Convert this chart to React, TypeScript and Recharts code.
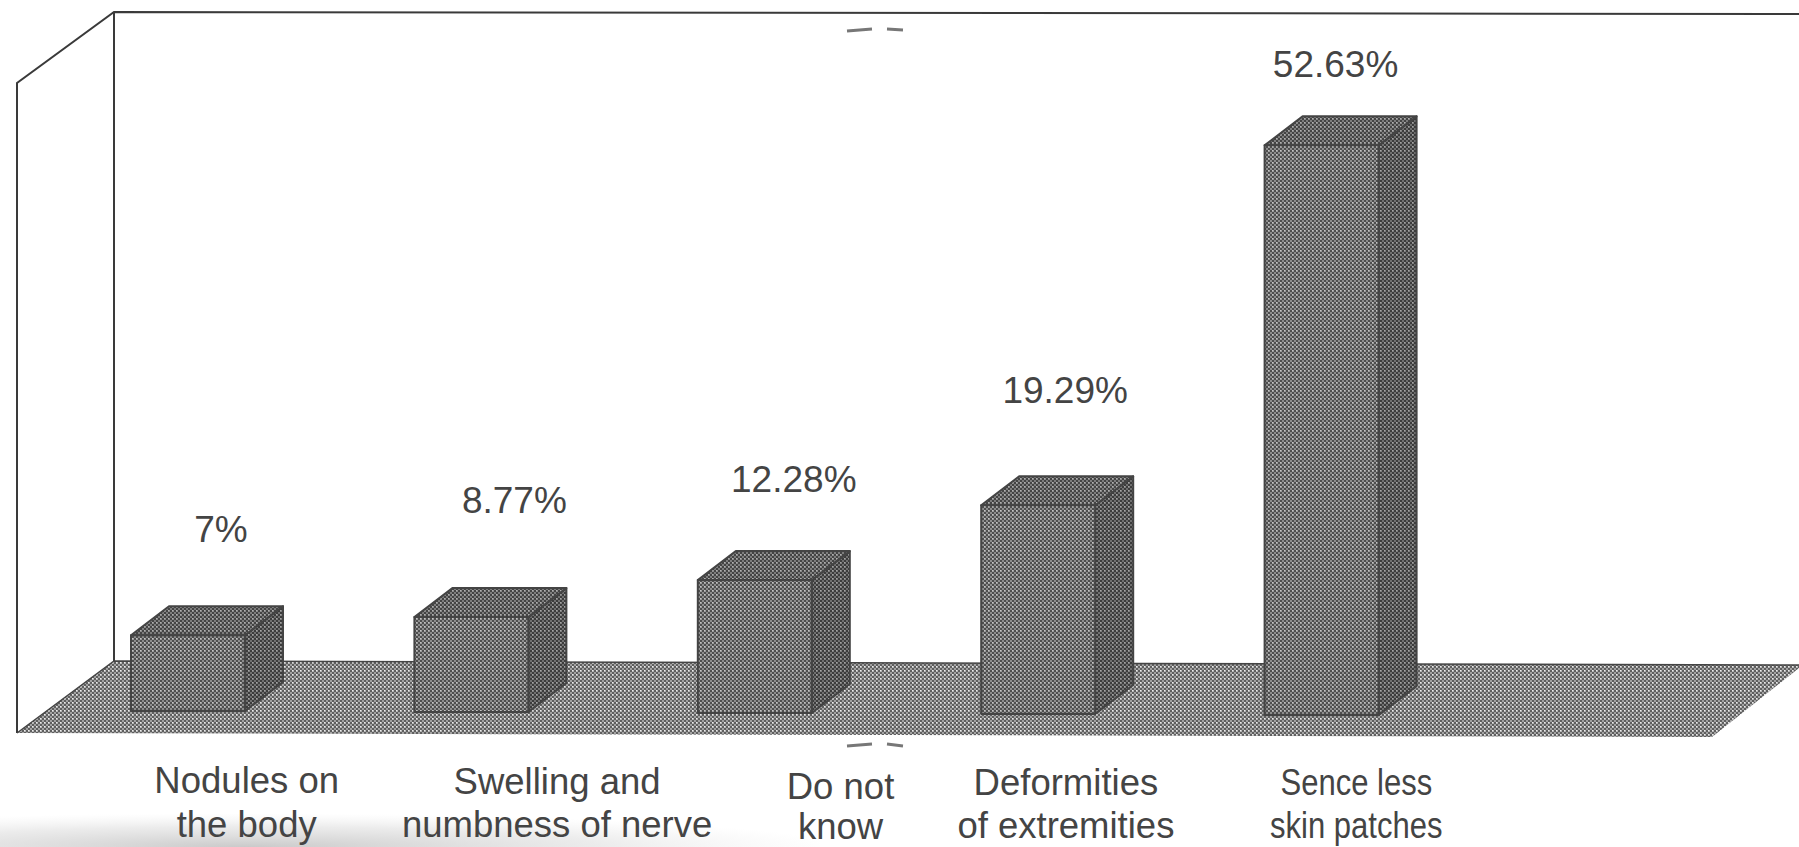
import { BarChart, Bar, XAxis, YAxis, LabelList } from 'recharts';

const categories = [
  'Nodules on\nthe body',
  'Swelling and\nnumbness of nerve',
  'Do not\nknow',
  'Deformities\nof extremities',
  'Sence less\nskin patches',
];
const percents = [7, 8.77, 12.28, 19.29, 52.63];
const percentLabels = ['7%', '8.77%', '12.28%', '19.29%', '52.63%'];

const data = categories.map((category, i) => ({ category, percent: percents[i], label: percentLabels[i] }));

const W = 1799;
const H = 847;
const TEXT = '#444';
const FONT = '"Liberation Sans", Arial, sans-serif';

// box depth of the fake 3D bars
const DX = 38;
const DY = -29;
// the baseline runs slightly downhill from left to right
const TILT = 0.0036;
const tiltAt = (x: number) => (x - 130) * TILT;

// hand placed label nudges, relative to the bar centre / bar top
const valueNudge = [
  { dx: 33, dy: -93 },
  { dx: 43, dy: -104 },
  { dx: 39, dy: -88 },
  { dx: 27, dy: -102 },
  { dx: 14, dy: -68 },
];
// sx squeezes the last label, which is set narrower than the others
const tickNudge = [
  { dx: 59, y: 793, lh: 44, sx: 1 },
  { dx: 86, y: 794, lh: 43, sx: 1 },
  { dx: 86, y: 799, lh: 40, sx: 1 },
  { dx: 28, y: 795, lh: 43, sx: 1 },
  { dx: 35, y: 795, lh: 43, sx: 0.85 },
];

function Dots({ id, base, dark, light }: { id: string; base: string; dark: string; light: string }) {
  return (
    <pattern id={id} width={4} height={4} patternUnits="userSpaceOnUse">
      <rect width={4} height={4} fill={base} />
      <rect x={0} y={0} width={2} height={2} fill={dark} />
      <rect x={2} y={2} width={2} height={2} fill={dark} />
      <rect x={0} y={2} width={1.4} height={1.4} fill={light} />
    </pattern>
  );
}

// walls and floor drawn behind the bars
function Room() {
  return (
    <g>
      <rect x={0} y={800} width={820} height={47} fill="url(#pageShade)" />
      <polygon points="114,661 1799,665 1799,668 1712,737 17,733" fill="url(#floorDots)" />
      <path d="M17,733 L17,83 L114,12 L1799,14" fill="none" stroke="#3a3a3a" strokeWidth={2} />
      <path d="M114,12 L114,661" fill="none" stroke="#3a3a3a" strokeWidth={2} />
      <path d="M17,733 L114,661 L1799,665" fill="none" stroke="#444" strokeWidth={1.5} />
      <path d="M847,31 L872,29 M887,29 L903,30 M847,746 L872,744 M887,744 L903,746" stroke="#777" strokeWidth={3} fill="none" />
    </g>
  );
}

function BoxBar(props: any) {
  const { x, y, width, height } = props;
  const t = tiltAt(x);
  const top = y + t;
  const bottom = y + height + t;
  const right = x + width;
  const edge = { stroke: '#444', strokeWidth: 2, strokeLinejoin: 'round' as const };
  return (
    <g>
      <polygon points={`${right},${top} ${right + DX},${top + DY} ${right + DX},${bottom + DY} ${right},${bottom}`} fill="url(#sideDots)" {...edge} />
      <polygon points={`${x},${top} ${x + DX},${top + DY} ${right + DX},${top + DY} ${right},${top}`} fill="url(#topDots)" {...edge} />
      <rect x={x} y={top} width={width} height={height} fill="url(#frontDots)" {...edge} />
    </g>
  );
}

function ValueLabel(props: any) {
  const { x, y, width, index, value } = props;
  const n = valueNudge[index];
  return (
    <text x={x + width / 2 + n.dx} y={y + tiltAt(x) + n.dy} textAnchor="middle" fontFamily={FONT} fontSize={37} fill={TEXT}>
      {value}
    </text>
  );
}

function CategoryTick(props: any) {
  const { x, payload, index } = props;
  const n = tickNudge[index];
  return (
    <text
      transform={`translate(${x + n.dx} 0) scale(${n.sx} 1)`}
      textAnchor="middle"
      fontFamily={FONT}
      fontSize={36.5}
      fill={TEXT}
    >
      {String(payload.value).split('\n').map((line, i) => (
        <tspan key={line} x={0} y={n.y + i * n.lh}>{line}</tspan>
      ))}
    </text>
  );
}

export default function App() {
  return (
    <div style={{ position: 'absolute', left: 0, top: 0, width: W, height: H, background: '#fff' }}>
      <BarChart width={W} height={H} data={data} margin={{ top: 61.5, right: 336, bottom: 0, left: 46 }} barSize={114}>
        <defs>
          <Dots id="frontDots" base="#8d8d8d" dark="#4e4e4e" light="#c4c4c4" />
          <Dots id="topDots" base="#7d7d7d" dark="#444" light="#b0b0b0" />
          <Dots id="sideDots" base="#707070" dark="#3c3c3c" light="#a4a4a4" />
          <Dots id="floorDots" base="#a2a2a2" dark="#5f5f5f" light="#ececec" />
          <radialGradient id="pageShade" cx="0.3" cy="1" r="0.72">
            <stop offset="0%" stopColor="#c4c4c4" stopOpacity={0.9} />
            <stop offset="60%" stopColor="#d4d4d4" stopOpacity={0.45} />
            <stop offset="100%" stopColor="#e4e4e4" stopOpacity={0} />
          </radialGradient>
        </defs>
        <Room />
        <XAxis dataKey="category" height={136} interval={0} axisLine={false} tickLine={false} tick={<CategoryTick />} />
        <YAxis hide domain={[0, 60]} />
        <Bar dataKey="percent" shape={<BoxBar />} isAnimationActive={false}>
          <LabelList dataKey="label" content={<ValueLabel />} />
        </Bar>
      </BarChart>
    </div>
  );
}
